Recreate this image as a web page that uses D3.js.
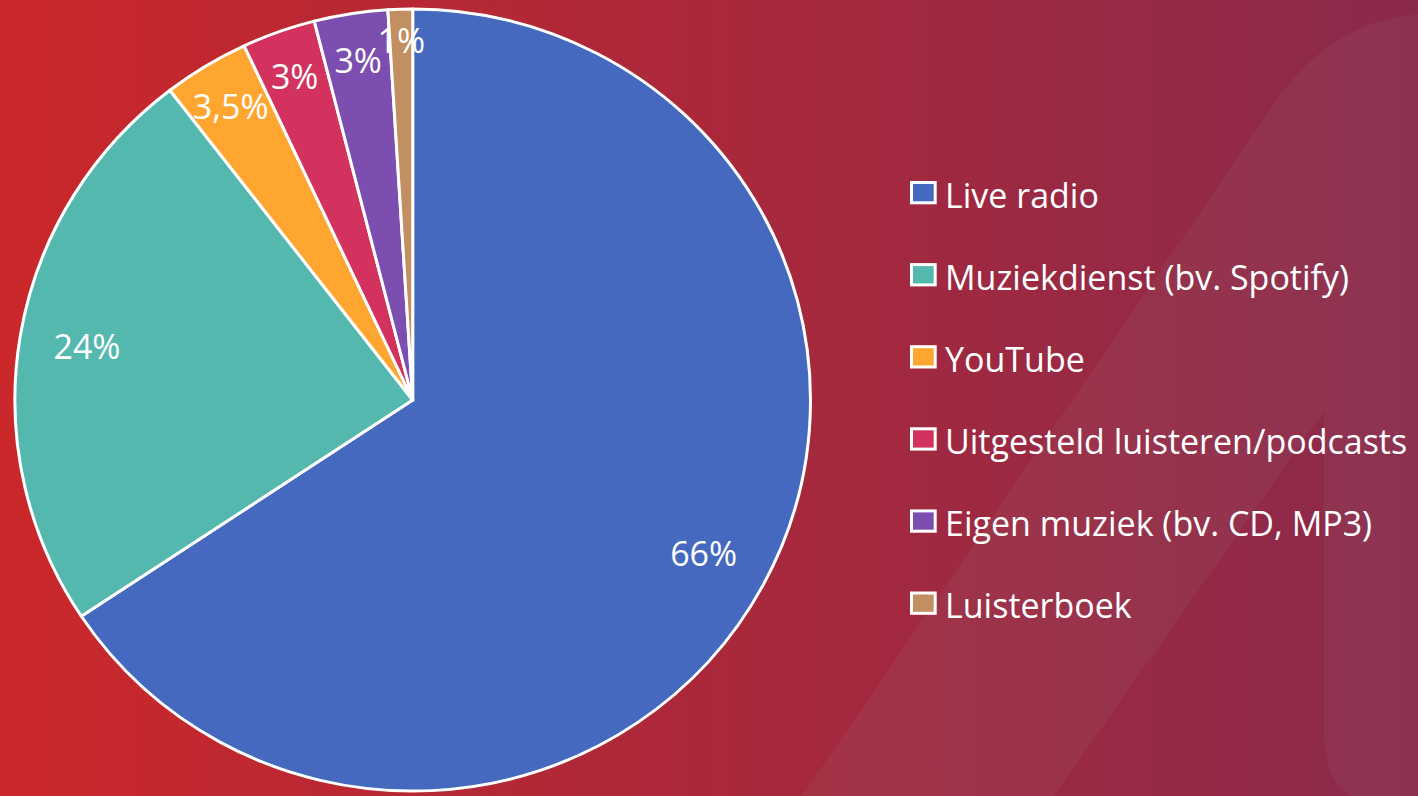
<!DOCTYPE html>
<html>
<head>
<meta charset="utf-8">
<script src="https://cdn.jsdelivr.net/npm/d3@7"></script>
<style>
  html, body { margin: 0; padding: 0; overflow: hidden; background: #B0283A; }
  svg { display: block; }
  text { font-family: "Open Sans", "Noto Sans", sans-serif; fill: #ffffff; }
</style>
</head>
<body>
<svg id="chart" width="1418" height="796"></svg>
<script>
// ---- data ----
const categories = ["Live radio", "Muziekdienst (bv. Spotify)", "YouTube", "Uitgesteld luisteren/podcasts", "Eigen muziek (bv. CD, MP3)", "Luisterboek"];
const values = [66, 24, 3.5, 3, 3, 1];
const valueLabels = ["66%", "24%", "3,5%", "3%", "3%", "1%"];
const colors = ["#4569BE", "#54B8AF", "#FFA630", "#D4325E", "#7B4EB0", "#C28F63"];

const W = 1418, H = 796;
const svg = d3.select("#chart");

// ---- background ----
const defs = svg.append("defs");
const grad = defs.append("linearGradient").attr("id", "bg").attr("x1", "0").attr("x2", "1").attr("y1", "0").attr("y2", "0");
grad.append("stop").attr("offset", "0").attr("stop-color", "#CA282A");
grad.append("stop").attr("offset", "0.5").attr("stop-color", "#AA283B");
grad.append("stop").attr("offset", "1").attr("stop-color", "#8A2A4B");
svg.append("rect").attr("width", W).attr("height", H).attr("fill", "url(#bg)");

// decorative "1" shape
const p = d3.path();
p.moveTo(802, 796);
p.lineTo(1270, 110);
p.quadraticCurveTo(1330, 16, 1430, 14);
p.lineTo(1430, 796);
p.lineTo(1350, 796);
p.quadraticCurveTo(1324, 780, 1324, 730);
p.lineTo(1324, 411);
p.lineTo(1054, 796);
p.closePath();
svg.append("path").attr("d", p.toString()).attr("fill", "rgba(160,120,128,0.12)");

// ---- pie ----
const cx = 412.7, cy = 400, R = 397.8, yScale = 0.983;
const pie = d3.pie().value(d => d.v).sort(null);
const data = pie(values.map((v, i) => ({ v, i })));
const arc = d3.arc().innerRadius(0).outerRadius(R);

const g = svg.append("g").attr("transform", `translate(${cx},${cy}) scale(1,${yScale})`);
g.selectAll("path.slice").data(data).join("path")
  .attr("class", "slice")
  .attr("d", arc)
  .attr("fill", d => colors[d.data.i])
  .attr("stroke", "#ffffff")
  .attr("stroke-width", 3)
  .attr("stroke-linejoin", "round");

const fontSize = 34;
function labelRadius(v) { return v >= 10 ? 0.83 * R : v >= 2 ? 0.88 * R : 0.92 * R; }
svg.append("g").selectAll("text.lbl").data(data).join("text")
  .attr("class", "lbl")
  .attr("text-anchor", "middle")
  .attr("font-size", fontSize)
  .attr("x", d => {
    const r = labelRadius(d.data.v);
    const c = d3.arc().innerRadius(r).outerRadius(r).centroid(d);
    return cx + c[0];
  })
  .attr("y", d => {
    const r = labelRadius(d.data.v);
    const c = d3.arc().innerRadius(r).outerRadius(r).centroid(d);
    return cy + c[1] * yScale + 12.5;
  })
  .text(d => valueLabels[d.data.i]);

// ---- legend ----
const legY = d3.scalePoint().domain(categories).range([207.7, 207.7 + 82.1 * 5]);
const leg = svg.append("g").selectAll("g").data(categories).join("g")
  .attr("transform", d => `translate(0,${legY(d)})`);
leg.append("rect")
  .attr("x", 911.5).attr("y", -25.2).attr("width", 23.7).attr("height", 20.3)
  .attr("fill", (d, i) => colors[i]).attr("stroke", "#ffffff").attr("stroke-width", 3);
leg.append("text")
  .attr("x", 945).attr("y", 0)
  .attr("font-size", fontSize)
  .text(d => d);
</script>
</body>
</html>
